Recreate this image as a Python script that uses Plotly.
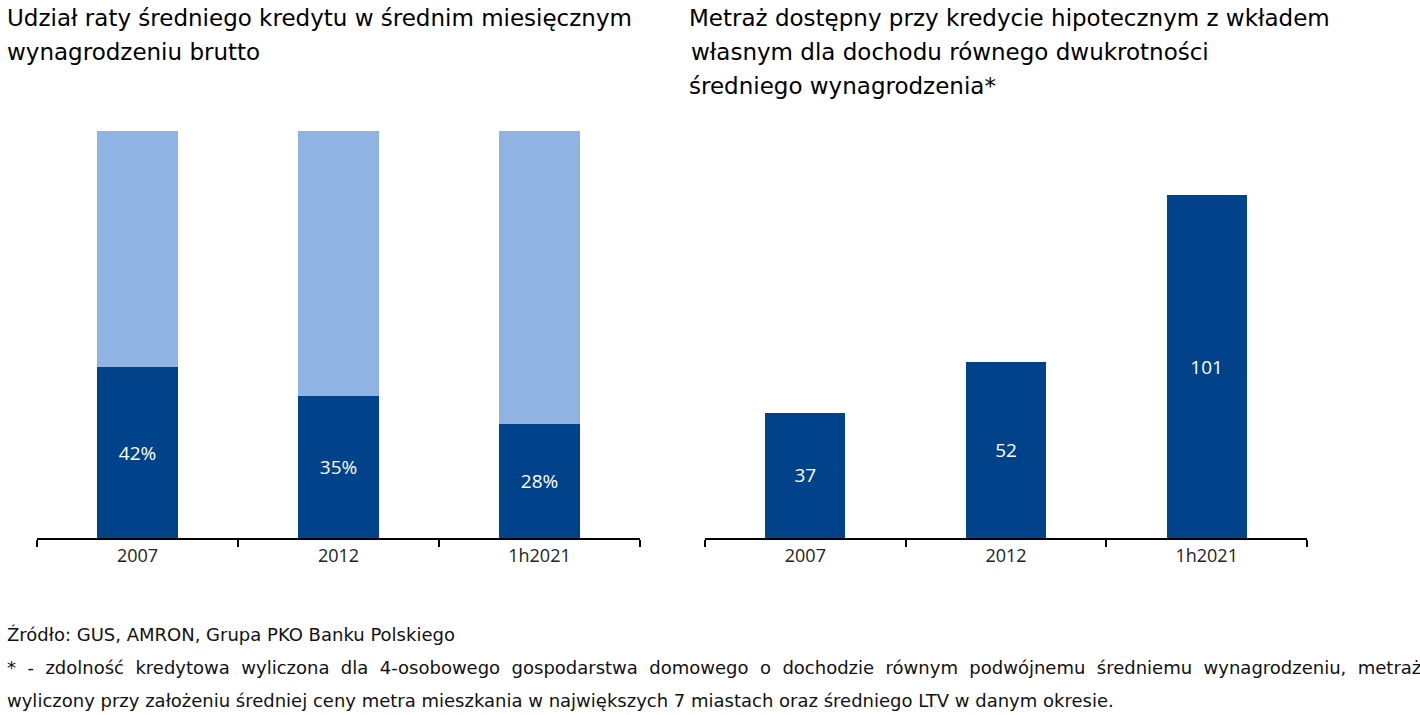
import plotly.graph_objects as go

categories = ["2007", "2012", "1h2021"]
rate_share = [42, 35, 28]
rate_rest = [58, 65, 72]
rate_labels = ["42%", "35%", "28%"]
area_values = [37, 52, 101]

DARK = "#00438a"
LIGHT = "#8fb4e3"
NUMFONT = "Open Sans, sans-serif"
TXTFONT = "DejaVu Sans, Open Sans, sans-serif"
W, H = 1420, 715


def px(x):
    return x / W


def py(y):
    return 1 - y / H


fig = go.Figure()
fig.add_trace(go.Bar(x=categories, y=rate_share, marker_color=DARK, marker_line_width=0,
                     text=rate_labels, textposition="inside", insidetextanchor="middle",
                     textfont=dict(color="white", size=19, family=NUMFONT),
                     xaxis="x", yaxis="y", hoverinfo="skip"))
fig.add_trace(go.Bar(x=categories, y=rate_rest, marker_color=LIGHT, marker_line_width=0,
                     xaxis="x", yaxis="y", hoverinfo="skip"))
fig.add_trace(go.Bar(x=categories, y=area_values, marker_color=DARK, marker_line_width=0,
                     text=[str(v) for v in area_values], textposition="inside", insidetextanchor="middle",
                     textfont=dict(color="white", size=19, family=NUMFONT),
                     xaxis="x2", yaxis="y2", hoverinfo="skip"))

ydom = [py(538), py(131)]
axis_common = dict(showline=True, linecolor="black", linewidth=2, ticks="outside",
                   tickson="boundaries", ticklen=7, tickwidth=2, tickcolor="black",
                   tickfont=dict(size=18, family=NUMFONT, color="#222"), showgrid=False)
fig.update_layout(
    width=W, height=H, barmode="stack", bargap=0.6, showlegend=False,
    plot_bgcolor="white", paper_bgcolor="white",
    margin=dict(l=0, r=0, t=0, b=0),
    font=dict(family=TXTFONT, color="#111"),
    xaxis=dict(domain=[px(37), px(640)], anchor="y", **axis_common),
    yaxis=dict(domain=ydom, range=[0, 100], visible=False),
    xaxis2=dict(domain=[px(705), px(1307)], anchor="y2", **axis_common),
    yaxis2=dict(domain=ydom, range=[0, 120], visible=False),
)

title_font = dict(size=23, family=TXTFONT, color="#000")
left_title = ["Udział raty średniego kredytu w średnim miesięcznym", "wynagrodzeniu brutto"]
right_title = ["Metraż dostępny przy kredycie hipotecznym z wkładem",
               "własnym dla dochodu równego dwukrotności",
               "średniego wynagrodzenia*"]
for i, t in enumerate(left_title):
    fig.add_annotation(x=px(5), y=py(18 + 34 * i), xref="paper", yref="paper", xanchor="left",
                       yanchor="middle", showarrow=False, font=title_font, text=t)
for i, t in enumerate(right_title):
    fig.add_annotation(x=px(687 + (2 if i == 1 else 0)), y=py(18 + 34 * i), xref="paper", yref="paper",
                       xanchor="left", yanchor="middle", showarrow=False, font=title_font, text=t)

note_font = dict(size=18, family=TXTFONT, color="#111")
SP = "\u00a0 "
notes = [
    "Źródło: GUS, AMRON, Grupa PKO Banku Polskiego",
    SP.join("* - zdolność kredytowa wyliczona dla 4-osobowego gospodarstwa domowego o dochodzie "
            "równym podwójnemu średniemu wynagrodzeniu, metraż".split(" ")),
    "wyliczony przy założeniu średniej ceny metra mieszkania w największych 7 miastach oraz średniego LTV w danym okresie.",
]
for i, t in enumerate(notes):
    fig.add_annotation(x=px(5), y=py(634 + 33 * i), xref="paper", yref="paper",
                       xanchor="left", yanchor="middle", showarrow=False, font=note_font, text=t)

fig.write_html("out.html", config={"displayModeBar": False},
               post_script="document.body.style.margin='0';")
